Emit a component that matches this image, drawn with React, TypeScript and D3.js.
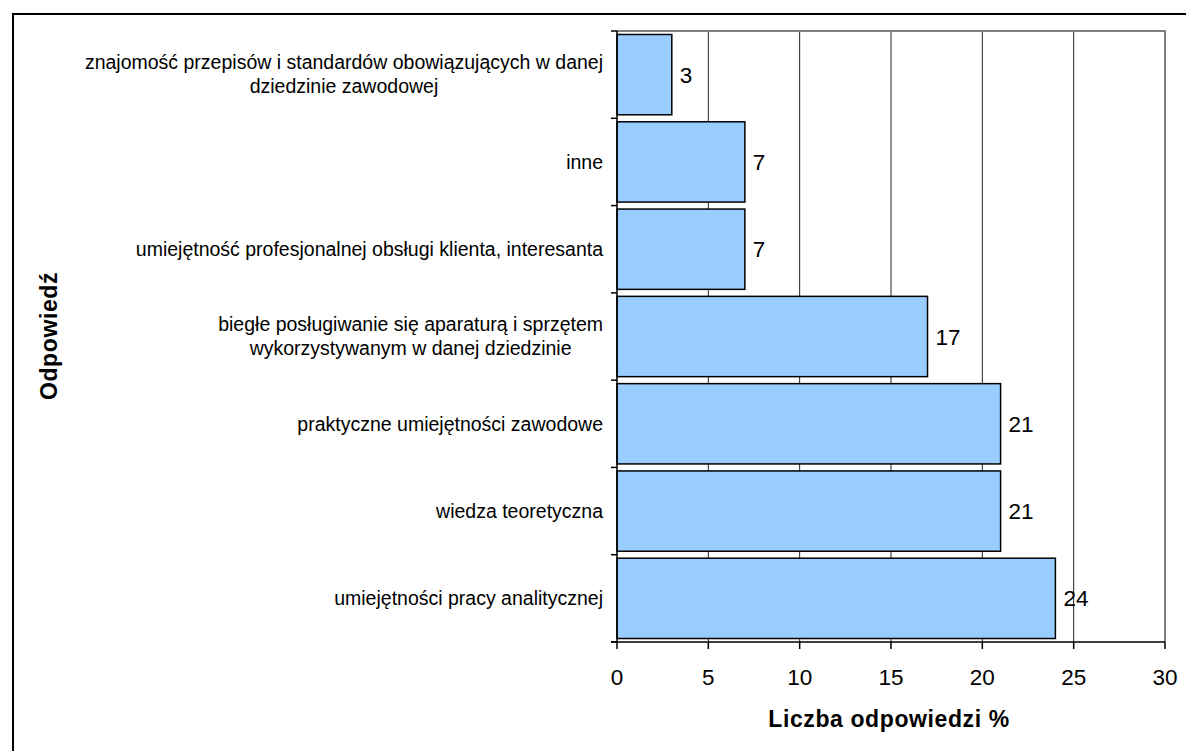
import { useEffect, useRef } from 'react';
import * as d3 from 'd3';

// categories, top to bottom; '\n' marks the line breaks seen in the picture
const categories = [
  'znajomość przepisów i standardów obowiązujących w danej\ndziedzinie zawodowej',
  'inne',
  'umiejętność profesjonalnej obsługi klienta, interesanta',
  'biegłe posługiwanie się aparaturą i sprzętem\nwykorzystywanym w danej dziedzinie',
  'praktyczne umiejętności zawodowe',
  'wiedza teoretyczna',
  'umiejętności pracy analitycznej',
];
const values = [3, 7, 7, 17, 21, 21, 24];
const xTicks = [0, 5, 10, 15, 20, 25, 30];
const xTitle = 'Liczba odpowiedzi %';
const yTitle = 'Odpowiedź';

const FONT = '"Liberation Sans", Arial, sans-serif';

const App = () => {
  const svgRef = useRef<SVGSVGElement>(null);

  useEffect(() => {
    if (!svgRef.current) return;
    const svg = d3.select(svgRef.current);
    svg.selectAll('*').remove();

    const plot = { left: 617, right: 1165, top: 31, bottom: 642 };

    const x = d3.scaleLinear().domain([0, 30]).range([plot.left, plot.right]);
    const y = d3
      .scaleBand<string>()
      .domain(categories)
      .range([plot.top, plot.bottom])
      .paddingInner(0.08)
      .paddingOuter(0.04);

    // outer chart border
    svg
      .append('rect')
      .attr('x', 13)
      .attr('y', 14)
      .attr('width', 1200)
      .attr('height', 800)
      .attr('fill', 'white')
      .attr('stroke', '#000')
      .attr('stroke-width', 2);

    // gridlines
    svg
      .append('g')
      .selectAll('line')
      .data(xTicks.filter(t => t > 0 && t < 30))
      .enter()
      .append('line')
      .attr('x1', d => x(d))
      .attr('x2', d => x(d))
      .attr('y1', plot.top)
      .attr('y2', plot.bottom)
      .attr('stroke', '#222')
      .attr('stroke-width', 1);

    // plot area border (top + right)
    svg
      .append('path')
      .attr('d', `M${plot.left},${plot.top}H${plot.right}V${plot.bottom}`)
      .attr('fill', 'none')
      .attr('stroke', '#808080')
      .attr('stroke-width', 2);

    // bars
    svg
      .append('g')
      .selectAll('rect')
      .data(categories)
      .enter()
      .append('rect')
      .attr('x', x(0))
      .attr('y', d => y(d)!)
      .attr('width', (_, i) => x(values[i]) - x(0))
      .attr('height', y.bandwidth())
      .attr('fill', '#99ccff')
      .attr('stroke', '#000')
      .attr('stroke-width', 1.5);

    // value labels
    svg
      .append('g')
      .selectAll('text')
      .data(categories)
      .enter()
      .append('text')
      .attr('x', (_, i) => x(values[i]) + 8)
      .attr('y', d => y(d)! + y.bandwidth() / 2)
      .attr('dy', '0.36em')
      .attr('font-family', FONT)
      .attr('font-size', 22.5)
      .text((_, i) => values[i]);

    // y axis line and ticks at band boundaries
    const yAxis = svg.append('g').attr('stroke', '#000').attr('stroke-width', 1.5);
    yAxis
      .append('line')
      .attr('x1', plot.left)
      .attr('x2', plot.left)
      .attr('y1', plot.top)
      .attr('y2', plot.bottom);
    const bounds = d3.range(categories.length + 1).map(i => plot.top + (plot.bottom - plot.top) * i / categories.length);
    yAxis
      .selectAll('.tick')
      .data(bounds)
      .enter()
      .append('line')
      .attr('x1', plot.left - 6)
      .attr('x2', plot.left)
      .attr('y1', d => d)
      .attr('y2', d => d);

    // x axis
    const xAxis = svg.append('g').attr('stroke', '#000').attr('stroke-width', 1.5);
    xAxis
      .append('line')
      .attr('x1', plot.left - 6)
      .attr('x2', plot.right)
      .attr('y1', plot.bottom)
      .attr('y2', plot.bottom);
    xAxis
      .selectAll('.tick')
      .data(xTicks)
      .enter()
      .append('line')
      .attr('x1', d => x(d))
      .attr('x2', d => x(d))
      .attr('y1', plot.bottom)
      .attr('y2', plot.bottom + 7);

    svg
      .append('g')
      .selectAll('text')
      .data(xTicks)
      .enter()
      .append('text')
      .attr('x', d => x(d))
      .attr('y', 685)
      .attr('text-anchor', 'middle')
      .attr('font-family', FONT)
      .attr('font-size', 22.5)
      .text(d => d);

    // category labels: block right-aligned, lines centred within block
    const labelRight = 603;
    const lineH = 24;
    categories.forEach(cat => {
      const lines = cat.split('\n');
      const cy = y(cat)! + y.bandwidth() / 2;
      const g = svg.append('g');
      const texts = lines.map((ln, j) =>
        g
          .append('text')
          .attr('y', cy + (j - (lines.length - 1) / 2) * lineH)
          .attr('dy', '0.35em')
          .attr('text-anchor', 'middle')
          .attr('font-family', FONT)
          .attr('font-size', 19.5)
          .text(ln)
      );
      const maxW = d3.max(texts, t => (t.node() as SVGTextElement).getComputedTextLength()) || 0;
      texts.forEach(t => t.attr('x', labelRight - maxW / 2));
    });

    // axis titles
    svg
      .append('text')
      .attr('x', 889)
      .attr('y', 727)
      .attr('text-anchor', 'middle')
      .attr('font-family', FONT)
      .attr('font-weight', 'bold')
      .attr('font-size', 23)
      .attr('letter-spacing', 0.6)
      .text(xTitle);

    svg
      .append('text')
      .attr('transform', 'translate(57,336) rotate(-90)')
      .attr('text-anchor', 'middle')
      .attr('font-family', FONT)
      .attr('font-weight', 'bold')
      .attr('font-size', 23)
      .attr('letter-spacing', 0.6)
      .text(yTitle);
  }, []);

  return (
    <svg
      ref={svgRef}
      width={1186}
      height={751}
      style={{ position: 'absolute', left: 0, top: 0, background: 'white' }}
    />
  );
};

export default App;
